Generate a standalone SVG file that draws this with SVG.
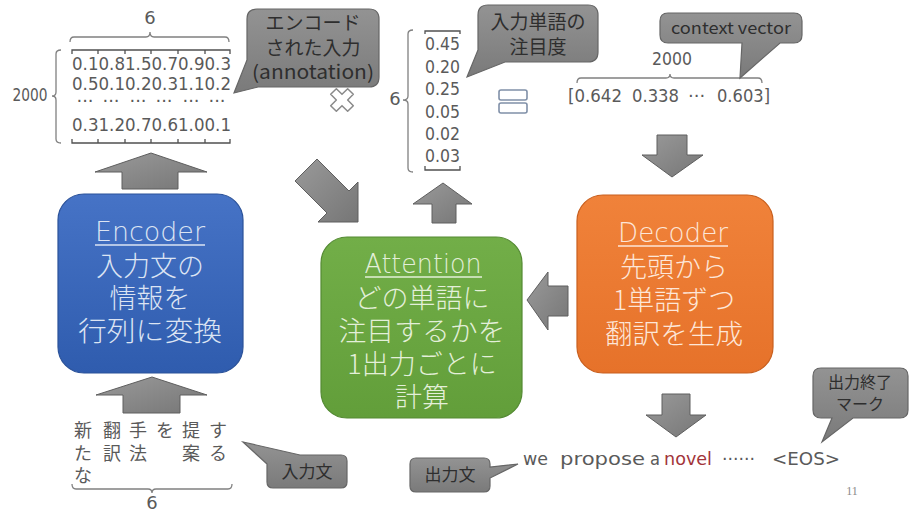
<svg xmlns="http://www.w3.org/2000/svg" width="913" height="528" viewBox="0 0 913 528">
<defs>
<linearGradient id="gArrow" x1="0" y1="0" x2="1" y2="1">
<stop offset="0" stop-color="#9a9a9a"/><stop offset="1" stop-color="#767676"/>
</linearGradient>
<linearGradient id="gCall" x1="0" y1="0" x2="0" y2="1">
<stop offset="0" stop-color="#939393"/><stop offset="1" stop-color="#7a7a7a"/>
</linearGradient>
<linearGradient id="gBlue" x1="0" y1="0" x2="0" y2="1">
<stop offset="0" stop-color="#4673c6"/><stop offset="1" stop-color="#2f5cae"/>
</linearGradient>
<linearGradient id="gGreen" x1="0" y1="0" x2="0" y2="1">
<stop offset="0" stop-color="#72ae48"/><stop offset="1" stop-color="#629e3a"/>
</linearGradient>
<linearGradient id="gOrange" x1="0" y1="0" x2="0" y2="1">
<stop offset="0" stop-color="#f0823a"/><stop offset="1" stop-color="#e6722a"/>
</linearGradient>
</defs>
<style>
.arrow{fill:url(#gArrow);stroke:#5e5e5e;stroke-width:1}
.call{fill:url(#gCall);stroke:#666;stroke-width:1.2}
.ct{font-family:"Noto Sans CJK JP","DejaVu Sans",sans-serif;fill:#2e2e2e;text-anchor:middle}
.num{font-family:"DejaVu Sans","Liberation Sans",sans-serif;fill:#5a5a5a;font-size:18px}
.jp{font-family:"Noto Sans CJK JP",sans-serif;fill:#5a5a5a;font-size:18px;text-anchor:middle}
.brace{fill:none;stroke:#808080;stroke-width:1.3}
.sb{fill:none;stroke:#505050;stroke-width:1.3}
.bt{font-family:"Noto Sans CJK JP","DejaVu Sans",sans-serif;font-size:27px;text-anchor:middle;font-weight:300}
.lat{font-family:"DejaVu Sans","Noto Sans CJK JP",sans-serif;font-size:26px}
</style>
<rect width="913" height="528" fill="#ffffff"/>

<!-- Encoder -->
<g id="encoder">
<rect x="58" y="194" width="185" height="179" rx="26" fill="url(#gBlue)" stroke="#2b5299" stroke-width="1.2"/>
<g class="bt" fill="#dce4f3">
<text class="lat" x="150" y="241" textLength="110" lengthAdjust="spacingAndGlyphs" text-anchor="middle">Encoder</text>
<line x1="95" y1="245" x2="205" y2="245" stroke="#dce4f3" stroke-width="1.5"/>
<text x="150" y="276">入力文の</text>
<text x="150" y="308">情報を</text>
<text x="150" y="341" textLength="144" lengthAdjust="spacingAndGlyphs">行列に変換</text>
</g>
</g>

<!-- Attention -->
<g id="attention">
<rect x="321" y="237" width="201" height="181" rx="26" fill="url(#gGreen)" stroke="#548a33" stroke-width="1.2"/>
<g class="bt" fill="#e3efd9">
<text class="lat" x="423" y="273" textLength="117" lengthAdjust="spacingAndGlyphs" text-anchor="middle">Attention</text>
<line x1="365" y1="277" x2="482" y2="277" stroke="#e3efd9" stroke-width="1.5"/>
<text x="422" y="308">どの単語に</text>
<text x="422" y="341" textLength="167" lengthAdjust="spacingAndGlyphs">注目するかを</text>
<text x="422" y="374">1出力ごとに</text>
<text x="422" y="407">計算</text>
</g>
</g>

<!-- Decoder -->
<g id="decoder">
<rect x="577" y="195" width="196" height="178" rx="26" fill="url(#gOrange)" stroke="#c85f1e" stroke-width="1.2"/>
<g class="bt" fill="#fde6d8">
<text class="lat" x="673" y="242" textLength="110" lengthAdjust="spacingAndGlyphs" text-anchor="middle">Decoder</text>
<line x1="618" y1="246" x2="728" y2="246" stroke="#fde6d8" stroke-width="1.5"/>
<text x="674" y="277">先頭から</text>
<text x="674" y="310">1単語ずつ</text>
<text x="674" y="344" textLength="138" lengthAdjust="spacingAndGlyphs">翻訳を生成</text>
</g>
</g>

<!-- Annotation matrix -->
<g id="matrix">
<text x="150" y="24" class="num" font-size="16" text-anchor="middle">6</text>
<path class="brace" d="M70,42 Q70,37 74,37 L146,37 Q150,37 150,32 Q150,37 154,37 L225,37 Q229,37 229,42"/>
<text x="30" y="101" class="num" font-size="17" textLength="35" lengthAdjust="spacingAndGlyphs" text-anchor="middle">2000</text>
<path class="brace" d="M61,50 Q56,50 56,54 L56,92 Q56,96 52,96 Q56,96 56,100 L56,139 Q56,143 61,143"/>
<path class="sb" d="M72,54 L72,50 L98,50 L98,54 M98,50 L125,50 L125,54 M125,50 L151,50 L151,54 M151,50 L178,50 L178,54 M178,50 L205,50 L205,54 M205,50 L230,50 L230,54"/>
<text x="72" y="70" class="num" textLength="159" lengthAdjust="spacingAndGlyphs">0.10.81.50.70.90.3</text>
<text x="72" y="90" class="num" textLength="159" lengthAdjust="spacingAndGlyphs">0.50.10.20.31.10.2</text>
<g class="num" text-anchor="middle">
<text x="85" y="107">···</text><text x="111" y="107">···</text><text x="138" y="107">···</text><text x="164" y="107">···</text><text x="191" y="107">···</text><text x="217" y="107">···</text>
</g>
<text x="72" y="131" class="num" textLength="159" lengthAdjust="spacingAndGlyphs">0.31.20.70.61.00.1</text>
<path class="sb" d="M72,139 L72,143 L98,143 L98,139 M98,143 L125,143 L125,139 M125,143 L151,143 L151,139 M151,143 L178,143 L178,139 M178,143 L205,143 L205,139 M205,143 L230,143 L230,139"/>
</g>

<!-- multiply -->
<g id="times">
<path transform="translate(342,100) rotate(45)" d="M-4,-12 H4 V-4 H12 V4 H4 V12 H-4 V4 H-12 V-4 H-4 Z" fill="#ffffff" stroke="#8a8a8a" stroke-width="1.5" stroke-linejoin="round"/>
</g>

<!-- attention weights vector -->
<g id="weights">
<text x="395" y="105" class="num" font-size="16" text-anchor="middle">6</text>
<path class="brace" d="M413,30 Q408,30 408,34 L408,96 Q408,100 403,100 Q408,100 408,104 L408,168 Q408,172 413,172"/>
<path class="sb" d="M425,34 L425,31 L460,31 L460,34"/>
<g class="num">
<text x="425" y="50" textLength="35" lengthAdjust="spacingAndGlyphs">0.45</text>
<text x="425" y="73" textLength="35" lengthAdjust="spacingAndGlyphs">0.20</text>
<text x="425" y="95" textLength="35" lengthAdjust="spacingAndGlyphs">0.25</text>
<text x="425" y="118" textLength="35" lengthAdjust="spacingAndGlyphs">0.05</text>
<text x="425" y="140" textLength="35" lengthAdjust="spacingAndGlyphs">0.02</text>
<text x="425" y="162" textLength="35" lengthAdjust="spacingAndGlyphs">0.03</text>
</g>
<path class="sb" d="M425,166 L425,170 L460,170 L460,166"/>
</g>

<!-- equals -->
<g id="equals" fill="#ffffff" stroke="#8090a8" stroke-width="1.6">
<rect x="499" y="90" width="28" height="10" rx="2"/>
<rect x="499" y="103" width="28" height="10" rx="2"/>
</g>

<!-- context vector -->
<g id="context">
<text x="672" y="65" class="num" font-size="17" textLength="40" lengthAdjust="spacingAndGlyphs" text-anchor="middle">2000</text>
<path class="brace" d="M577,83 Q577,78 581,78 L666,78 Q670,78 670,74 Q670,78 674,78 L758,78 Q762,78 762,83"/>
<g class="num" font-size="19">
<text x="568" y="102" textLength="54" lengthAdjust="spacingAndGlyphs">[0.642</text>
<text x="632" y="102" textLength="47" lengthAdjust="spacingAndGlyphs">0.338</text>
<text x="688" y="102">···</text>
<text x="717" y="102" textLength="53" lengthAdjust="spacingAndGlyphs">0.603]</text>
</g>
</g>

<!-- input sentence -->
<g id="input">
<g class="jp">
<text x="83" y="437">新</text><text x="83" y="460">た</text><text x="83" y="482">な</text>
<text x="112" y="437">翻</text><text x="112" y="460">訳</text>
<text x="138" y="437">手</text><text x="138" y="460">法</text>
<text x="165" y="437">を</text>
<text x="191" y="437">提</text><text x="191" y="460">案</text>
<text x="218" y="437">す</text><text x="218" y="460">る</text>
</g>
<path class="brace" d="M72,484 Q72,489 76,489 L148,489 Q152,489 152,493 Q152,489 156,489 L228,489 Q232,489 232,484"/>
<text x="152" y="509" class="num" font-size="16" text-anchor="middle">6</text>
</g>

<!-- output sentence -->
<g id="output" class="num" font-size="20">
<text x="523" y="465" textLength="25" lengthAdjust="spacingAndGlyphs">we</text>
<text x="560" y="465" textLength="85" lengthAdjust="spacingAndGlyphs">propose</text>
<text x="650" y="465" textLength="10" lengthAdjust="spacingAndGlyphs">a</text>
<text x="664" y="465" textLength="48" lengthAdjust="spacingAndGlyphs" fill="#a2343a">novel</text>
<text x="722" y="465" textLength="33" lengthAdjust="spacingAndGlyphs">······</text>
<text x="772" y="465" textLength="68" lengthAdjust="spacingAndGlyphs">&lt;EOS&gt;</text>
</g>

<text x="852" y="495" font-family="Liberation Serif, serif" font-size="12" fill="#8a8a8a" text-anchor="middle">11</text>

<!-- callouts -->
<g id="callout-annotation">
<path class="call" d="M257,9 H369 Q379,9 379,19 V77 Q379,87 369,87 H258 L234,93 L247,60 V19 Q247,9 257,9 Z"/>
<text class="ct" x="313" y="30" font-size="19">エンコード</text>
<text class="ct" x="313" y="55" font-size="19">された入力</text>
<text class="ct" x="313" y="79" font-size="19" textLength="122" lengthAdjust="spacingAndGlyphs" font-family="DejaVu Sans, sans-serif">(annotation)</text>
</g>
<g id="callout-weights">
<path class="call" d="M488,5 H588 Q598,5 598,15 V52 Q598,62 588,62 H505 L467,77 L478,50 V15 Q478,5 488,5 Z"/>
<text class="ct" x="538" y="29" font-size="19">入力単語の</text>
<text class="ct" x="538" y="54" font-size="19">注目度</text>
</g>
<g id="callout-context">
<path class="call" d="M668,13 H794 Q802,13 802,21 V35 Q802,43 794,43 H780 L740,78 L742,43 H668 Q660,43 660,35 V21 Q660,13 668,13 Z"/>
<text class="ct" x="731" y="34" font-size="16" textLength="120" lengthAdjust="spacingAndGlyphs" font-family="DejaVu Sans, sans-serif">context vector</text>
</g>
<g id="callout-input">
<path class="call" d="M267,464 L243,442 L300,455 H341 Q347,455 347,461 V482 Q347,488 341,488 H273 Q267,488 267,482 Z"/>
<text class="ct" x="307" y="478" font-size="17">入力文</text>
</g>
<g id="callout-output">
<path class="call" d="M416,458 H484 Q490,458 490,464 V467 L518,464 L490,478 V486 Q490,492 484,492 H416 Q410,492 410,486 V464 Q410,458 416,458 Z"/>
<text class="ct" x="450" y="481" font-size="17">出力文</text>
</g>
<g id="callout-eos">
<path class="call" d="M821,368 H900 Q908,368 908,376 V410 Q908,418 900,418 H853 L822,442 L832,418 H821 Q813,418 813,410 V376 Q813,368 821,368 Z"/>
<text class="ct" x="860" y="388" font-size="16">出力終了</text>
<text class="ct" x="860" y="410" font-size="16">マーク</text>
</g>

<!-- connectors -->
<g id="connectors">
<polygon class="arrow" points="151,153 207,172 178,172 178,189 122,189 122,172 95,172"/>
<polygon class="arrow" points="152,377 207,395 180,395 180,413 123,413 123,395 96,395"/>
<polygon class="arrow" points="317,159 349,191 358,182 358,222 318,222 327,213 295,181"/>
<polygon class="arrow" points="443,183 472,204 456,204 456,223 432,223 432,204 413,204"/>
<polygon class="arrow" points="527,300 548,272 548,286 568,286 568,316 548,316 548,330"/>
<polygon class="arrow" points="657,135 687,135 687,155 703,155 672,177 642,155 657,155"/>
<polygon class="arrow" points="662,394 690,394 690,415 706,415 676,437 646,415 662,415"/>
</g>
</svg>
